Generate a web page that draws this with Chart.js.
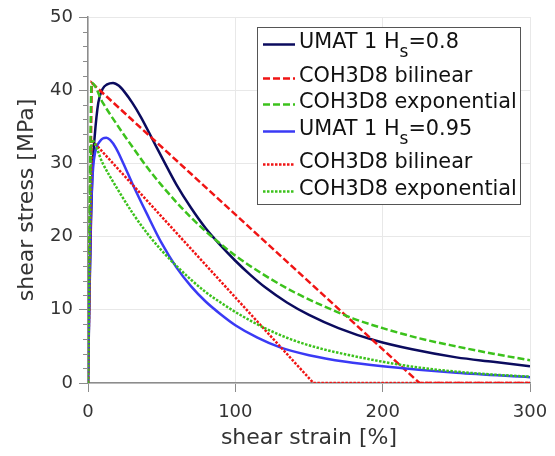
<!DOCTYPE html>
<html>
<head>
<meta charset="utf-8">
<script src="https://cdn.jsdelivr.net/npm/chart.js@4.4.0/dist/chart.umd.min.js"></script>
<style>
  html, body { margin: 0; padding: 0; background: #fff; }
  #wrap { width: 555px; height: 456px; }
</style>
</head>
<body>
<div id="wrap"><canvas id="shearChart" width="555" height="456"></canvas></div>
<script>
// series names (H_s -> subscript s in the legend)
const seriesLabels = ['UMAT 1 H_s=0.8', 'COH3D8 bilinear', 'COH3D8 exponential',
                      'UMAT 1 H_s=0.95', 'COH3D8 bilinear', 'COH3D8 exponential'];

// UMAT 1, Hs = 0.8
const umat08X = [0, 1, 2, 3, 4.5, 7, 10, 13, 17, 21, 25, 30, 36, 44, 52, 60, 70, 80, 90, 100, 110, 120, 135, 150, 170, 195, 220, 250, 275, 300];
const umat08Y = [0, 12, 22, 29, 33.6, 38.3, 40.2, 40.8, 41, 40.6, 39.7, 38.3, 36.3, 33.2, 30.1, 27.1, 23.9, 21.1, 18.8, 16.7, 14.8, 13.1, 11.0, 9.3, 7.5, 5.8, 4.6, 3.5, 2.9, 2.3];

// COH3D8 bilinear, Hs = 0.8
const bil08X = [0, 2.5, 225, 300];
const bil08Y = [0, 41, 0, 0];

// COH3D8 exponential, Hs = 0.8
const exp08X = [0, 2.5, 10, 20, 30, 40, 50, 60, 70, 80, 90, 100, 120, 140, 160, 180, 200, 225, 250, 275, 300];
const exp08Y = [0, 41, 38.3, 35.2, 32.3, 29.5, 27, 24.7, 22.6, 20.7, 19.0, 17.4, 14.7, 12.4, 10.5, 8.8, 7.5, 6.1, 5.0, 4.0, 3.1];

// UMAT 1, Hs = 0.95
const umat095X = [0, 1, 2, 3, 4, 6, 8, 10, 12.5, 15, 19, 24, 30, 40, 50, 60, 70, 80, 90, 100, 115, 130, 150, 175, 200, 250, 300];
const umat095Y = [0, 13, 23, 28, 30.5, 32.3, 33.0, 33.4, 33.5, 33.2, 32.1, 30, 27.3, 23.1, 19.1, 15.8, 13.2, 11.1, 9.4, 7.9, 6.2, 4.9, 3.8, 2.9, 2.3, 1.4, 0.8];

// COH3D8 bilinear, Hs = 0.95
const bil095X = [0, 2.5, 153, 300];
const bil095Y = [0, 33.2, 0, 0];

// COH3D8 exponential, Hs = 0.95
const exp095X = [0, 2.5, 10, 20, 30, 40, 50, 60, 70, 80, 90, 100, 120, 140, 160, 180, 200, 225, 250, 275, 300];
const exp095Y = [0, 33.2, 30, 26.5, 23.3, 20.5, 18.1, 16, 14.1, 12.4, 11, 9.7, 7.5, 5.8, 4.6, 3.7, 2.9, 2.1, 1.55, 1.15, 0.87];

const xTicks = [0, 100, 200, 300];
const yTicks = [0, 10, 20, 30, 40, 50];
const yMinorStep = 2;

const FONT = "'DejaVu Sans', sans-serif";
const NAVY = '#0b0b5e', RED = '#f01414', GREEN = '#3cc21c', BLUE = '#3a3af5';
const DASH = [7, 3], DOT = [2.5, 1.5];

function pts(xs, ys) {
  return xs.map((x, i) => ({ x: x, y: ys[i] }));
}

function series(i, xs, ys, color, dash, smooth) {
  return {
    label: seriesLabels[i],
    data: pts(xs, ys),
    borderColor: color,
    backgroundColor: color,
    borderWidth: 2.5,
    borderDash: dash,
    borderCapStyle: 'butt',
    pointRadius: 0,
    showLine: true,
    fill: false,
    tension: smooth ? 0.4 : 0,
    cubicInterpolationMode: smooth ? 'monotone' : 'default',
    order: 6 - i // later series drawn on top
  };
}

// short minor tick marks on the y axis
const minorTicks = {
  id: 'minorTicks',
  afterDraw(chart) {
    const y = chart.scales.y, ctx = chart.ctx;
    ctx.save();
    ctx.strokeStyle = '#8c8c8c';
    ctx.lineWidth = 1;
    for (let v = y.min; v <= y.max; v += yMinorStep) {
      if (yTicks.includes(v)) continue;
      const py = Math.round(y.getPixelForValue(v)) + 0.5;
      ctx.beginPath();
      ctx.moveTo(y.right - 5, py);
      ctx.lineTo(y.right, py);
      ctx.stroke();
    }
    ctx.restore();
  }
};

// boxed legend inside the plot, with subscripts
const legendBox = {
  id: 'legendBox',
  afterDatasetsDraw(chart) {
    const ctx = chart.ctx, area = chart.chartArea;
    const w = 263, h = 177;
    const bx = area.right - 10 - w, by = area.top + 10;
    const rows = [16, 50, 76, 103, 136, 163];
    ctx.save();
    ctx.fillStyle = '#fff';
    ctx.fillRect(bx, by, w, h);
    ctx.strokeStyle = '#555';
    ctx.lineWidth = 1;
    ctx.strokeRect(bx + 0.5, by + 0.5, w, h);
    chart.data.datasets.forEach((ds, i) => {
      const cy = by + rows[i];
      ctx.strokeStyle = ds.borderColor;
      ctx.lineWidth = 2.5;
      ctx.setLineDash(ds.borderDash || []);
      ctx.beginPath();
      ctx.moveTo(bx + 6, cy + 1.5);
      ctx.lineTo(bx + 38, cy + 1.5);
      ctx.stroke();
      ctx.setLineDash([]);
      ctx.fillStyle = '#111';
      ctx.textBaseline = 'middle';
      ctx.textAlign = 'left';
      let tx = bx + 42;
      const parts = ds.label.split('_');
      ctx.font = '20.8px ' + FONT;
      ctx.fillText(parts[0], tx, cy);
      if (parts.length > 1) {
        tx += ctx.measureText(parts[0]).width;
        const sub = parts[1].charAt(0), rest = parts[1].slice(1);
        ctx.font = '17px ' + FONT;
        ctx.fillText(sub, tx, cy + 9.5);
        tx += ctx.measureText(sub).width;
        ctx.font = '20.8px ' + FONT;
        ctx.fillText(rest, tx, cy);
      }
    });
    ctx.restore();
  }
};

new Chart(document.getElementById('shearChart'), {
  type: 'scatter',
  data: {
    datasets: [
      series(0, umat08X, umat08Y, NAVY, [], true),
      series(1, bil08X, bil08Y, RED, DASH, false),
      series(2, exp08X, exp08Y, GREEN, DASH, true),
      series(3, umat095X, umat095Y, BLUE, [], true),
      series(4, bil095X, bil095Y, RED, DOT, false),
      series(5, exp095X, exp095Y, GREEN, DOT, true)
    ]
  },
  options: {
    responsive: false,
    animation: false,
    devicePixelRatio: 1,
    layout: { padding: { top: 17, right: 25, left: 0, bottom: 0 } },
    plugins: {
      legend: { display: false },
      tooltip: { enabled: false }
    },
    scales: {
      x: {
        type: 'linear',
        min: xTicks[0],
        max: xTicks[xTicks.length - 1],
        afterBuildTicks: s => { s.ticks = xTicks.map(v => ({ value: v })); },
        afterFit: s => { s.height = 73; s.paddingRight = 0; s.paddingLeft = 0; },
        ticks: { color: '#333', font: { family: FONT, size: 18 }, padding: 10, maxRotation: 0 },
        grid: { color: '#e8e8e8', tickColor: '#8c8c8c', tickLength: 9, lineWidth: 1 },
        border: { color: '#8c8c8c', width: 1.5 },
        title: { display: true, text: 'shear strain [%]', color: '#333', font: { family: FONT, size: 22 }, padding: { top: 0, bottom: 5 } }
      },
      y: {
        type: 'linear',
        min: yTicks[0],
        max: yTicks[yTicks.length - 1],
        afterBuildTicks: s => { s.ticks = yTicks.map(v => ({ value: v })); },
        afterFit: s => { s.width = 88; },
        ticks: { color: '#333', font: { family: FONT, size: 18 }, padding: 6 },
        grid: { color: '#e8e8e8', tickColor: '#8c8c8c', tickLength: 9, lineWidth: 1 },
        border: { color: '#8c8c8c', width: 1.5 },
        title: { display: true, text: 'shear stress [MPa]', color: '#333', font: { family: FONT, size: 22 }, padding: { top: 14, bottom: 0 } }
      }
    }
  },
  plugins: [minorTicks, legendBox]
});
</script>
</body>
</html>
